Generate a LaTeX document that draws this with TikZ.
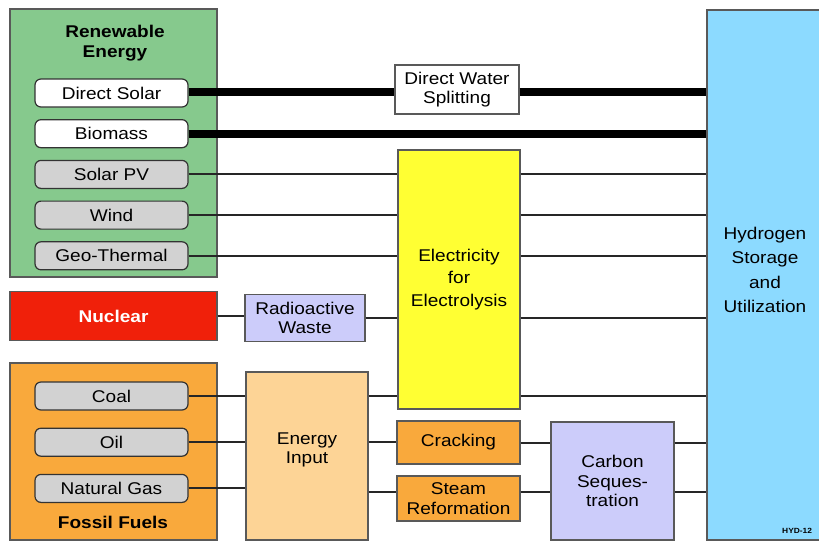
\documentclass[tikz,border=0pt]{standalone}
\usepackage{fontspec}
\setmainfont{Liberation Sans}[FakeStretch=1.12]
\usetikzlibrary{positioning}

\definecolor{renewgreen}{RGB}{134,201,141}
\definecolor{nucred}{RGB}{240,32,10}
\definecolor{fossilorange}{RGB}{249,169,60}
\definecolor{inputtan}{RGB}{253,212,150}
\definecolor{lavender}{RGB}{204,204,250}
\definecolor{elecyellow}{RGB}{255,255,51}
\definecolor{hydroblue}{RGB}{140,218,255}
\definecolor{srcgray}{RGB}{210,210,210}

\newcommand{\boxfont}{\fontsize{17}{19.5}\selectfont}

\begin{document}
\begin{tikzpicture}[x=1pt, y=-1pt, node distance=11.5pt,
          group/.style={rectangle, draw=black!65, line width=1.2pt, inner sep=0pt},
          source/.style={rectangle, rounded corners=6pt, draw=black!80, line width=1.2pt, fill=srcgray, minimum width=153pt, minimum height=28pt, inner sep=0pt, font=\boxfont},
          process/.style={rectangle, draw=black!65, line width=1.2pt, minimum width=122pt, align=center, inner sep=0pt, font=\boxfont},
          link/.style={line width=2pt, color=black!85},
          heavy/.style={line width=8pt, color=black}]

        \useasboundingbox (0,0) rectangle (819,542);

        % renewable sources
        \node [group, fill=renewgreen, minimum width=207pt, minimum height=268pt] (renew) at (113.5,143) {};
        \node [font=\boxfont\bfseries, align=center] (renew_title) at (115,43) {Renewable\\Energy};
        \node [source, fill=white] (direct_solar) at (111.5,93) {Direct Solar};
        \node [source, fill=white, below=of direct_solar] (biomass) {Biomass};
        \node [source, below=of biomass] (solar_pv) {Solar PV};
        \node [source, below=of solar_pv] (wind) {Wind};
        \node [source, below=of wind] (geothermal) {Geo-Thermal};

        % nuclear
        \node [group, fill=nucred, minimum width=207pt, minimum height=49pt, font=\boxfont\bfseries, text=white] (nuclear) at (113.5,316) {Nuclear};
        \node [process, fill=lavender, minimum width=120pt, minimum height=47pt] (waste) at (305,318) {Radioactive\\Waste};

        % fossil fuels
        \node [group, fill=fossilorange, minimum width=207pt, minimum height=177pt] (fossil) at (113.5,451.5) {};
        \node [source] (coal) at (111.5,396) {Coal};
        \node [source, below=17pt of coal] (oil) {Oil};
        \node [source, below=17pt of oil] (gas) {Natural Gas};
        \node [font=\boxfont\bfseries] (fossil_title) at (113,522) {Fossil Fuels};
        \node [process, fill=inputtan, minimum height=168pt] (energy_input) at (307,456) {};
        \node [font=\boxfont, align=center] (energy_text) at (307,450) {Energy\\Input};

        % conversion
        \node [process, fill=white, minimum width=124pt, minimum height=49pt] (water_split) at (457,89.5) {Direct Water\\Splitting};
        \node [process, fill=elecyellow, minimum height=259pt] (electrolysis) at (459,279.5) {Electricity\\[3pt]for\\[3pt]Electrolysis};
        \node [process, fill=fossilorange, minimum width=123pt, minimum height=43pt] (cracking) at (458.5,442.5) {Cracking};
        \node [process, fill=fossilorange, minimum width=123pt, minimum height=45pt] (steam) at (458.5,498.5) {Steam\\Reformation};
        \node [process, fill=lavender, minimum width=123pt, minimum height=118pt] (carbon) at (612.5,481) {Carbon\\Seques-\\tration};
        \node [process, fill=hydroblue, minimum width=123pt, minimum height=530pt] (hydrogen) at (768.5,275) {};
        \node [font=\boxfont, align=center] (hydrogen_text) at (765,270) {Hydrogen\\[5pt]Storage\\[5pt]and\\[5pt]Utilization};
        \node [font=\fontsize{7.5}{8}\selectfont\bfseries, anchor=west, inner sep=0pt] (hyd_code) at (782,531) {HYD-12};

        \coordinate (steam_level) at (0,492);

        % heavy paths
        \draw [heavy] (direct_solar.east |- 0,92) -- (water_split.west |- 0,92);
        \draw [heavy] (water_split.east |- 0,92) -- (hydrogen.west |- 0,92);
        \draw [heavy] (biomass.east) -- (biomass -| hydrogen.west);

        % electricity paths
        \foreach \src in {solar_pv, wind, geothermal} {
          \draw [link] (\src.east) -- (\src -| electrolysis.west);
          \draw [link] (\src -| electrolysis.east) -- (\src -| hydrogen.west);
        }
        \draw [link] (nuclear.east) -- (nuclear.east -| waste.west);
        \draw [link] (waste.east) -- (waste.east -| electrolysis.west);
        \draw [link] (waste -| electrolysis.east) -- (waste -| hydrogen.west);

        % fossil paths
        \foreach \src in {coal, oil, gas}
          \draw [link] (\src.east) -- (\src -| energy_input.west);
        \draw [link] (coal -| energy_input.east) -- (coal -| electrolysis.west);
        \draw [link] (coal -| electrolysis.east) -- (coal -| hydrogen.west);
        \draw [link] (oil -| energy_input.east) -- (oil -| cracking.west);
        \draw [link] (steam_level -| energy_input.east) -- (steam_level -| steam.west);
        \draw [link] (cracking.east) -- (cracking -| carbon.west);
        \draw [link] (cracking -| carbon.east) -- (cracking -| hydrogen.west);
        \draw [link] (steam_level -| steam.east) -- (steam_level -| carbon.west);
        \draw [link] (steam_level -| carbon.east) -- (steam_level -| hydrogen.west);
      \end{tikzpicture}
\end{document}
